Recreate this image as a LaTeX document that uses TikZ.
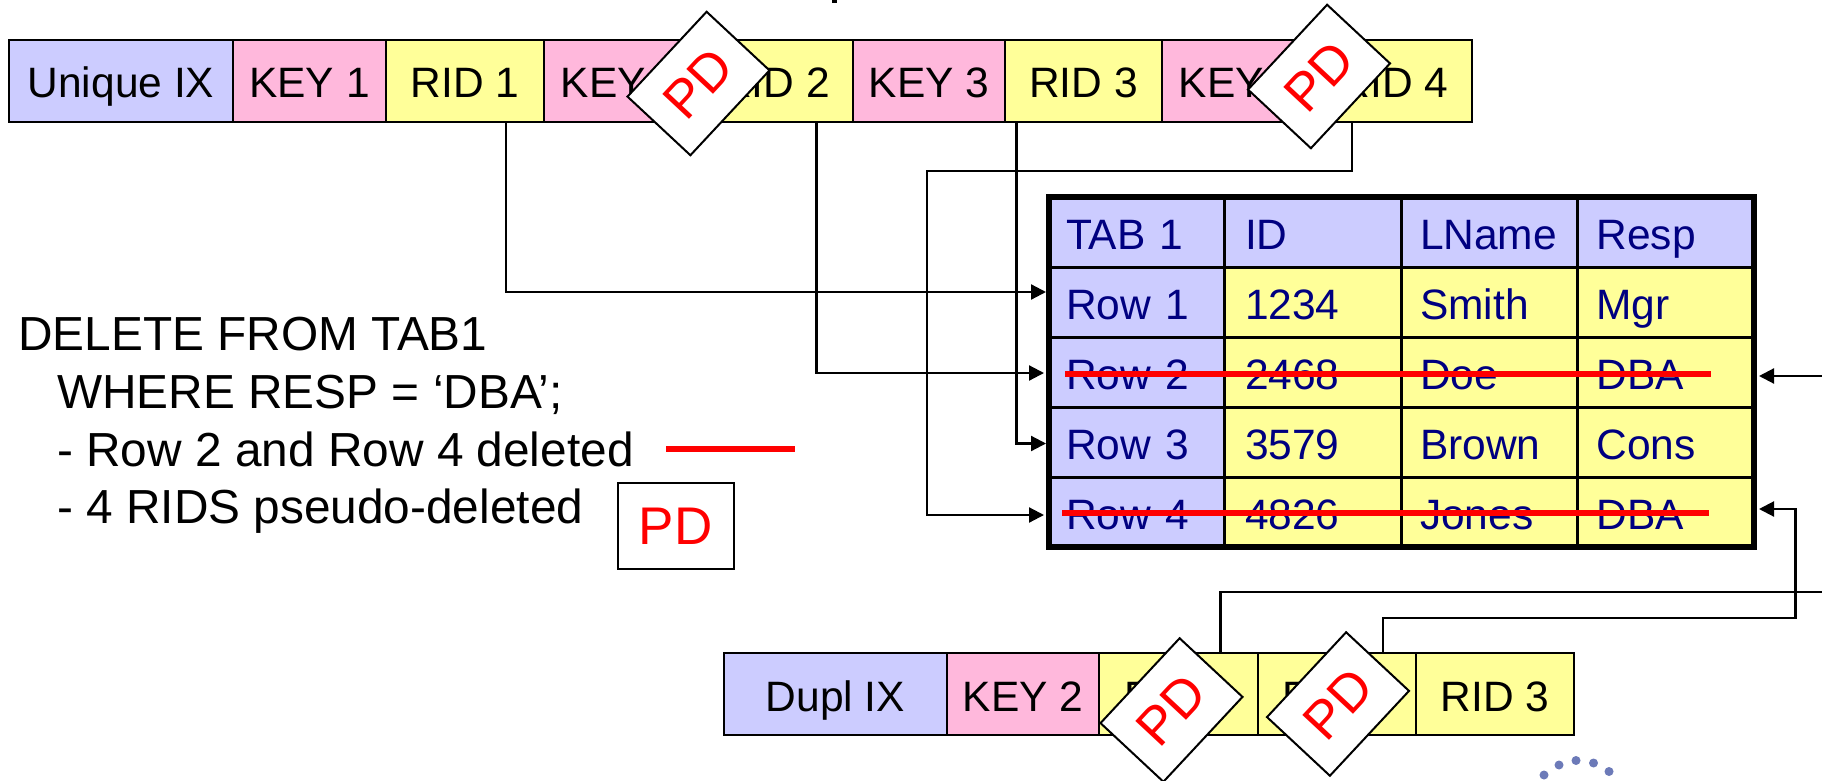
\documentclass[tikz,border=0pt]{standalone}
\usepackage{fontspec}
\setmainfont{Liberation Sans}
\usetikzlibrary{arrows.meta,positioning}
\definecolor{idxblue}{HTML}{CCCCFF}
\definecolor{keypink}{HTML}{FFB8DC}
\definecolor{ridyellow}{HTML}{FFFF99}
\definecolor{tabnavy}{HTML}{000080}
\definecolor{logodot}{HTML}{6C7AB8}
\begin{document}
\begin{tikzpicture}[x=1pt,y=-1pt,>={Triangle[length=15pt,width=15pt]},node distance=0pt]
  \tikzstyle{box}=[draw,line width=2.6pt,inner sep=0pt,outer sep=0pt,text height=58pt,text depth=24pt,font=\fontsize{42.5}{50}\selectfont]
  \tikzstyle{cell}=[draw,line width=3pt,fill=ridyellow,text=tabnavy,align=left,inner xsep=17pt,inner ysep=0pt,outer sep=0pt,text height=52pt,text depth=18pt,font=\fontsize{42.5}{50}\selectfont]
  \tikzstyle{colA}=[cell,fill=idxblue,text width=141pt]
  \tikzstyle{colB}=[cell,inner xsep=21pt,text width=135pt]
  \tikzstyle{colC}=[cell,inner xsep=19pt,text width=138.5pt]
  \tikzstyle{colD}=[cell,inner xsep=19pt,text width=138.5pt]
  \tikzstyle{pdmark}=[draw,line width=2pt,fill=white,text=red,inner sep=0pt,minimum width=116pt,minimum height=86pt,font=\fontsize{53}{60}\selectfont]
  \tikzstyle{conn}=[line width=2.2pt]
  \tikzstyle{strike}=[line width=5.5pt,red]
  \tikzstyle{stmt}=[anchor=base west,inner sep=0pt,font=\fontsize{47.8}{56}\selectfont]
  \useasboundingbox (0,0) rectangle (1822,781);

  % unique index
  \node[box,fill=idxblue,minimum width=224pt,anchor=north west] (u0) at (9,40) {Unique IX};
  \node[box,fill=keypink,minimum width=153pt,right=of u0] (u1) {KEY 1};
  \node[box,fill=ridyellow,minimum width=158pt,right=of u1] (u2) {RID 1};
  \node[box,fill=keypink,minimum width=154pt,right=of u2] (u3) {KEY 2};
  \node[box,fill=ridyellow,minimum width=155pt,right=of u3] (u4) {RID 2};
  \node[box,fill=keypink,minimum width=152pt,right=of u4] (u5) {KEY 3};
  \node[box,fill=ridyellow,minimum width=157pt,right=of u5] (u6) {RID 3};
  \node[box,fill=keypink,minimum width=154pt,right=of u6] (u7) {KEY 4};
  \node[box,fill=ridyellow,minimum width=156pt,right=of u7] (u8) {RID 4};

  % duplicate index
  \node[box,fill=idxblue,minimum width=223pt,anchor=north west] (d0) at (724,653) {Dupl IX};
  \node[box,fill=keypink,minimum width=152pt,right=of d0] (d1) {KEY 2};
  \node[box,fill=ridyellow,minimum width=159pt,right=of d1] (d2) {RID 2};
  \node[box,fill=ridyellow,minimum width=158pt,right=of d2] (d3) {RID 4};
  \node[box,fill=ridyellow,minimum width=158pt,right=of d3] (d4) {RID 3};

  % table
  \node[colA,anchor=north west] (h1) at (1049,197) {TAB 1};
  \node[colB,fill=idxblue,right=of h1] (h2) {ID};
  \node[colC,fill=idxblue,right=of h2] (h3) {LName};
  \node[colD,fill=idxblue,right=of h3] (h4) {Resp};
  \node[colA,below=of h1] (a1) {Row 1};
  \node[colB,right=of a1] (a2) {1234};
  \node[colC,right=of a2] (a3) {Smith};
  \node[colD,right=of a3] (a4) {Mgr};
  \node[colA,below=of a1] (b1) {Row 2};
  \node[colB,right=of b1] (b2) {2468};
  \node[colC,right=of b2] (b3) {Doe};
  \node[colD,right=of b3] (b4) {DBA};
  \node[colA,below=of b1] (c1) {Row 3};
  \node[colB,right=of c1] (c2) {3579};
  \node[colC,right=of c2] (c3) {Brown};
  \node[colD,right=of c3] (c4) {Cons};
  \node[colA,below=of c1] (e1) {Row 4};
  \node[colB,right=of e1] (e2) {4826};
  \node[colC,right=of e2] (e3) {Jones};
  \node[colD,right=of e3] (e4) {DBA};
  \draw[line width=6pt] (h1.north west) rectangle (e4.south east);

  % connectors
  \coordinate (bendu) at (927,171);
  \coordinate (offb) at (1822,376);
  \coordinate (offd) at (1822,592);
  \coordinate (bende) at (1795.5,618);
  \draw[conn,->,shorten >=3pt] ([xshift=41pt]u2.south) |- ([yshift=10pt]a1.west);
  \draw[conn,->,shorten >=5pt] ([xshift=41pt]u4.south) |- ([yshift=-1pt]b1.west);
  \draw[conn,->,shorten >=3pt] ([xshift=-67pt]u6.south) |- ([yshift=-1.5pt]c1.west);
  \draw[conn,->,shorten >=5pt] ([xshift=-42pt]u8.south) |- (bendu) |- ([yshift=-3pt]e1.west);
  \draw[conn,->,shorten >=5pt] (offb) -- (b4.east |- offb);
  \draw[conn] ([xshift=42pt]d2.north) |- (offd);
  \draw[conn,->,shorten >=5pt] ([xshift=46pt]d3.north) |- (bende) |- ([yshift=3pt]e4.east);

  % deleted rows
  \draw[strike] ([xshift=16pt,yshift=-2pt]b1.west) -- ([xshift=-43pt,yshift=-2pt]b4.east);
  \draw[strike] ([xshift=13pt,yshift=-1pt]e1.west) -- ([xshift=-45pt,yshift=-1pt]e4.east);

  % statement
  \node[stmt] (s1) at (18,350) {DELETE FROM TAB1};
  \node[stmt] (s2) at (57,408.7) {WHERE RESP = ‘DBA’;};
  \node[stmt] (s3) at (57,466) {- Row 2 and Row 4 deleted};
  \node[stmt] (s4) at (57,523) {- 4 RIDS pseudo-deleted};
  \coordinate (keya) at (666,449);
  \coordinate (keyb) at (795,449);
  \draw[strike] (keya) -- (keyb);
  \node[pdmark] (pd0) at (675.5,526) {PD};

  % pseudo-delete marks
  \node[pdmark,rotate=47] (pd1) at (698.5,83.5) {PD\hspace{8pt}};
  \node[pdmark,rotate=47] (pd2) at (1319,76.5) {PD\hspace{8pt}};
  \node[pdmark,rotate=47] (pd3) at (1171.5,710) {PD\hspace{8pt}};
  \node[pdmark,rotate=47] (pd4) at (1338,704) {PD\hspace{8pt}};

  % cut off at the edges of the picture
  \fill (832,0) rectangle (837,3);
  \foreach \dx/\dy in {1544/775,1559/765,1576/760.5,1593.5/763,1609/771.5}
    \fill[logodot] (\dx,\dy) circle (4.5pt);
\end{tikzpicture}
\end{document}
